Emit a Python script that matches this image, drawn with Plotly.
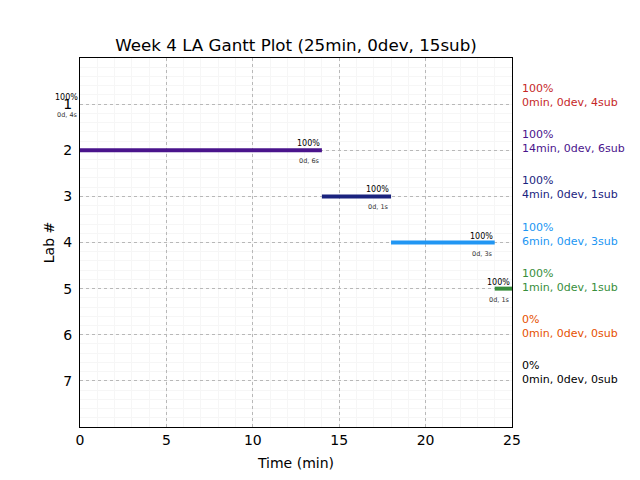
import plotly.graph_objects as go

labs = [1, 2, 3, 4, 5, 6, 7]
starts = [0, 0, 14, 18, 24, 25, 25]
minutes = [0, 14, 4, 6, 1, 0, 0]
devs = [0, 0, 0, 0, 0, 0, 0]
subs = [4, 6, 1, 3, 1, 0, 0]
pcts = [100, 100, 100, 100, 100, 0, 0]
colors = ["#c62828", "#4a148c", "#1a237e", "#2196f3", "#388e3c", "#e65100", "#000000"]
x_ticks = [0, 5, 10, 15, 20, 25]
title = "Week 4 LA Gantt Plot (25min, 0dev, 15sub)"

FONT = "DejaVu Sans"
fig = go.Figure()
annotations = []
for lab, s, m, d, sb, p, c in zip(labs, starts, minutes, devs, subs, pcts, colors):
    if sb > 0:
        fig.add_trace(go.Scatter(x=[s, s + m], y=[lab, lab], mode="lines",
                                 line=dict(color=c, width=4), showlegend=False,
                                 hoverinfo="skip", cliponaxis=False))
        annotations.append(dict(x=s + m, y=lab, xref="x", yref="y", text=f"{p}%",
                                showarrow=False, xanchor="right", yanchor="bottom",
                                yshift=0, font=dict(family=FONT, size=8, color="black")))
        annotations.append(dict(x=s + m, y=lab, xref="x", yref="y", text=f"{d}d, {sb}s",
                                showarrow=False, xanchor="right", yanchor="top",
                                yshift=-5, font=dict(family=FONT, size=6.5, color="#333333")))
    annotations.append(dict(x=1.018, y=lab, xref="paper", yref="y",
                            text=f"{p}%<br>{m}min, {d}dev, {sb}sub",
                            showarrow=False, xanchor="left", yanchor="bottom", align="left",
                            yshift=-7, font=dict(family=FONT, size=11, color=c)))

# page body has an 8px margin, so the figure is shrunk by 8px to fit the 640x480 window
fig.update_layout(
    width=632, height=472,
    margin=dict(l=72, r=128, t=50, b=53),
    paper_bgcolor="white", plot_bgcolor="white",
    font=dict(family=FONT, size=14, color="black"),
    title=dict(text=title, x=0.5, xref="paper", xanchor="center",
               y=1 - 37 / 472, yanchor="middle", font=dict(family=FONT, size=16.7)),
    annotations=annotations,
    showlegend=False,
)
fig.update_xaxes(range=[0, 25], tickvals=x_ticks, ticks="", showline=True, mirror=True,
                 linecolor="black", linewidth=1, zeroline=False, automargin=False,
                 showgrid=True, gridcolor="#b8b8b8", griddash="dot", gridwidth=1,
                 minor=dict(dtick=1, showgrid=True, gridcolor="#f6f6f6", gridwidth=1,
                            griddash="solid"),
                 title=dict(text="Time (min)", font=dict(family=FONT, size=14), standoff=11),
                 tickfont=dict(family=FONT, size=14))
fig.update_yaxes(range=[8, 0], tickvals=labs, ticks="", showline=True, mirror=True,
                 linecolor="black", linewidth=1, zeroline=False, automargin=False,
                 showgrid=True, gridcolor="#b8b8b8", griddash="dot", gridwidth=1,
                 minor=dict(dtick=0.2, showgrid=True, gridcolor="#f6f6f6", gridwidth=1,
                            griddash="solid"),
                 title=dict(text="Lab #", font=dict(family=FONT, size=14), standoff=5),
                 tickfont=dict(family=FONT, size=14), ticklabelstandoff=4)
fig.write_html("out.html")
